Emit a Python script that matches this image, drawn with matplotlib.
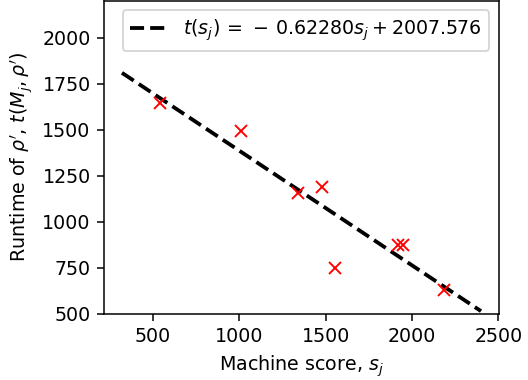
import numpy as np
import matplotlib.pyplot as plt

# Datos
puntaje = [540, 1010, 1340, 1480, 1555, 1920, 1950, 2185]
tiempo = [1645, 1490, 1155, 1190, 750, 870, 870, 630]

pendiente = -0.62280
intercepto = 2007.576
linea_x = np.array([320, 2400])

dpi = 137
fig, ax = plt.subplots(figsize=(528 / dpi, 380 / dpi), dpi=dpi)
fig.subplots_adjust(left=0.197, right=0.945, top=0.998, bottom=0.175)

ax.plot(linea_x, pendiente * linea_x + intercepto, 'k--', lw=2,
        label=r'$t(s_j)\,=\,-\,0.62280 s_j + 2007.576$')
ax.plot(puntaje, tiempo, 'x', color='red', ms=6)

ax.set_xlim(216, 2504)
ax.set_ylim(500, 2200)
ax.set_xticks([500, 1000, 1500, 2000, 2500])
ax.set_yticks([500, 750, 1000, 1250, 1500, 1750, 2000])
ax.set_xlabel(r'Machine score, $s_j$')
ax.set_ylabel(r"Runtime of $\rho'$, $t(M_j, \rho')$")
ax.legend(loc='upper right')

fig.savefig('out.png', dpi=dpi)
